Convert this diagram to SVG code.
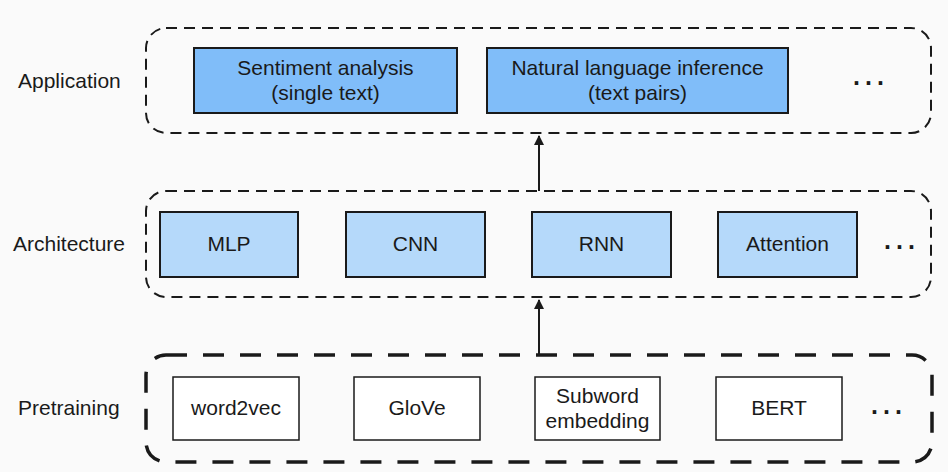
<svg xmlns="http://www.w3.org/2000/svg" width="948" height="472" viewBox="0 0 948 472">
<defs>
<style>
text{font-family:"Liberation Sans",Arial,sans-serif;font-size:21px;fill:#1a1a1a;text-anchor:middle}
.lbl{text-anchor:start}
.grp{fill:none;stroke:#1a1a1a;stroke-width:2;stroke-dasharray:11 7}
.grp3{fill:none;stroke:#1a1a1a;stroke-width:3.5;stroke-dasharray:21 16}
.app{fill:#80bdf9;stroke:#1a1a1a;stroke-width:2}
.arch{fill:#b5d9fa;stroke:#1a1a1a;stroke-width:2}
.pre{fill:#ffffff;stroke:#1a1a1a;stroke-width:1.5}
.dots{font-size:25px;font-weight:bold;letter-spacing:5px}
.conn{stroke:#1a1a1a;stroke-width:2;fill:none}
</style>
<marker id="ah" viewBox="0 0 10 10" refX="9" refY="5" markerWidth="5" markerHeight="5" orient="auto">
<path d="M0,0 L10,5 L0,10 z" fill="#1a1a1a"/>
</marker>
</defs>
<rect width="948" height="472" fill="#fafafa"/>

<g id="layer-application">
<text class="lbl" x="18" y="88">Application</text>
<rect class="grp" x="146" y="28" width="785" height="105" rx="20"/>
</g>
<g id="layer-architecture">
<text class="lbl" x="13" y="251">Architecture</text>
<rect class="grp" x="146" y="191" width="785" height="106" rx="20"/>
</g>
<g id="layer-pretraining">
<text class="lbl" x="18" y="415">Pretraining</text>
<rect class="grp3" x="146" y="355" width="786" height="107" rx="20"/>
</g>

<g id="node-sentiment">
<rect class="app" x="194" y="48" width="263" height="65"/>
<text x="325.5" y="75">Sentiment analysis</text>
<text x="325.5" y="100">(single text)</text>
</g>
<g id="node-nli">
<rect class="app" x="487" y="48" width="301" height="65"/>
<text x="637.5" y="75">Natural language inference</text>
<text x="637.5" y="100">(text pairs)</text>
</g>
<g id="node-app-more"><text class="dots" x="871" y="85">...</text></g>

<g id="node-mlp">
<rect class="arch" x="160" y="212" width="138" height="65"/>
<text x="229" y="251">MLP</text>
</g>
<g id="node-cnn">
<rect class="arch" x="346" y="212" width="139" height="65"/>
<text x="415.5" y="251">CNN</text>
</g>
<g id="node-rnn">
<rect class="arch" x="532" y="212" width="139" height="65"/>
<text x="601.5" y="251">RNN</text>
</g>
<g id="node-attention">
<rect class="arch" x="718" y="212" width="139" height="65"/>
<text x="787.5" y="251">Attention</text>
</g>
<g id="node-arch-more"><text class="dots" x="902" y="249">...</text></g>

<g id="node-word2vec">
<rect class="pre" x="173" y="377" width="126" height="63"/>
<text x="236" y="415">word2vec</text>
</g>
<g id="node-glove">
<rect class="pre" x="354" y="377" width="126" height="63"/>
<text x="417" y="415">GloVe</text>
</g>
<g id="node-subword">
<rect class="pre" x="535" y="377" width="125" height="63"/>
<text x="597.5" y="403">Subword</text>
<text x="597.5" y="428">embedding</text>
</g>
<g id="node-bert">
<rect class="pre" x="716" y="377" width="126" height="63"/>
<text x="779" y="415">BERT</text>
</g>
<g id="node-pre-more"><text class="dots" x="889" y="414">...</text></g>

<g id="connectors">
<line class="conn" x1="539" y1="191" x2="539" y2="136" marker-end="url(#ah)"/>
<line class="conn" x1="539" y1="354" x2="539" y2="300" marker-end="url(#ah)"/>
</g>
</svg>
